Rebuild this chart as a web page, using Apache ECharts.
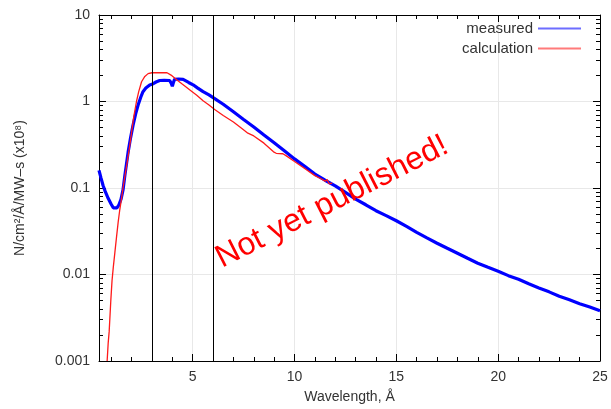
<!DOCTYPE html>
<html><head><meta charset="utf-8">
<script src="https://cdn.jsdelivr.net/npm/echarts@6/dist/echarts.min.js"></script>
<style>html,body{margin:0;padding:0;background:#fff}#c{width:611px;height:409px}</style>
</head><body><div id="c"></div>
<script>
// ---- data ----
const measuredX = [0.4,0.5,0.6,0.7,0.85,1.0,1.1,1.18,1.28,1.38,1.48,1.58,1.67,1.75,1.83,1.95,2.07,2.2,2.32,2.45,2.56,2.7,2.89,3.0,3.2,3.38,3.6,3.87,3.95,4.0,4.05,4.11,4.3,4.53,4.8,5.02,5.25,5.51,5.8,6.08,6.5,7.0,7.5,8.0,8.5,9.0,9.5,10,10.5,11,11.5,12,12.5,13,13.5,14,14.5,15,15.5,16,16.5,17,17.5,18,18.5,19,19.5,20,20.5,21,21.5,22,22.5,23,23.5,24,24.5,25];
const measuredY = [0.16,0.13,0.107,0.092,0.076,0.065,0.059,0.057,0.059,0.064,0.074,0.095,0.14,0.19,0.26,0.38,0.53,0.72,0.91,1.12,1.3,1.43,1.55,1.58,1.68,1.75,1.76,1.75,1.62,1.5,1.65,1.8,1.82,1.8,1.66,1.56,1.43,1.3,1.19,1.08,0.93,0.76,0.62,0.507,0.41,0.334,0.27,0.217,0.178,0.145,0.123,0.106,0.089,0.0745,0.064,0.0546,0.048,0.0418,0.036,0.0307,0.0265,0.023,0.0201,0.0176,0.0154,0.0135,0.0121,0.0109,0.0097,0.0088,0.0078,0.0070,0.0063,0.0056,0.0051,0.0046,0.0042,0.0038];
const calcX = [0.8,0.85,0.9,0.98,1.04,1.1,1.18,1.26,1.34,1.42,1.5,1.58,1.7,1.8,1.91,2.0,2.1,2.24,2.35,2.49,2.65,2.81,3.0,3.3,3.74,3.98,4.23,4.5,4.88,5.2,5.51,5.8,6.08,6.5,7.0,7.4,7.71,7.8,8.0,8.5,8.97,9.1,9.43,9.6,10.0,10.5,11.0,11.3,11.5,11.6,11.7,11.85];
const calcY = [0.001,0.0016,0.0022,0.005,0.0085,0.012,0.018,0.027,0.04,0.056,0.074,0.1,0.15,0.21,0.31,0.44,0.65,1.0,1.3,1.69,1.95,2.1,2.15,2.16,2.15,1.99,1.77,1.58,1.35,1.18,1.02,0.91,0.81,0.69,0.58,0.49,0.43,0.425,0.40,0.33,0.262,0.252,0.249,0.235,0.202,0.168,0.139,0.128,0.12,0.125,0.112,0.114];
const xTickLabels = [5,10,15,20,25];
const xMajorTicks = [5,10,15,20];
const xMinorTicks = [1,2,3,4,6,7,8,9,11,12,13,14,16,17,18,19,21,22,23,24];
const yMinorTicks = [0.002,0.003,0.004,0.005,0.006,0.007,0.008,0.009,0.02,0.03,0.04,0.05,0.06,0.07,0.08,0.09,0.2,0.3,0.4,0.5,0.6,0.7,0.8,0.9,2,3,4,5,6,7,8,9];
const refLinesX = [3,6];
const X_MIN = 0.4, X_MAX = 25, Y_MIN = 0.001, Y_MAX = 10;

const FONT = '"Liberation Sans", Arial, Helvetica, sans-serif';
const measured = measuredX.map((x,i)=>[x, measuredY[i]]);
const calc = calcX.map((x,i)=>[x, calcY[i]]);
const yMinorLog = yMinorTicks.map(v=>Math.log10(v));

const axisLine = {show:true, onZero:false, lineStyle:{color:'#000', width:1}};
const noLine = {show:false, onZero:false};
const major = {show:true, inside:true, length:7, lineStyle:{color:'#000', width:1}};
const minor = {show:true, inside:true, length:4, lineStyle:{color:'#000', width:1}};
const labelStyle = {fontSize:14, color:'#333', margin:9, fontFamily:FONT};

const chart = echarts.init(document.getElementById('c'));
chart.setOption({
  animation:false,
  textStyle:{fontFamily:FONT},
  grid:{left:99, right:11, top:15, bottom:48, containLabel:false},
  legend:{
    orient:'vertical', right:30, top:21, align:'right', icon:'rect',
    itemWidth:43, itemHeight:2, itemGap:5, padding:0,
    textStyle:{fontSize:15, color:'#333', fontFamily:FONT},
    data:[
      {name:'measured', itemStyle:{color:'#6d6dff'}},
      {name:'calculation', itemStyle:{color:'#ff7a7a'}}
    ]
  },
  xAxis:[{
    type:'value', min:X_MIN, max:X_MAX, position:'bottom',
    name:'Wavelength, Å', nameLocation:'middle', nameGap:29,
    nameTextStyle:{fontSize:14, color:'#333', fontFamily:FONT},
    axisLine:axisLine,
    axisTick:Object.assign({customValues:xMajorTicks}, major),
    axisLabel:Object.assign({customValues:xTickLabels}, labelStyle),
    splitLine:{show:true, lineStyle:{color:'#e8e8e8', width:1}}
  },{
    type:'value', min:X_MIN, max:X_MAX, position:'top',
    axisLine:axisLine,
    axisTick:Object.assign({customValues:xMajorTicks}, major),
    axisLabel:{show:false}, splitLine:{show:false}
  },{
    type:'value', min:X_MIN, max:X_MAX, position:'bottom',
    axisLine:noLine,
    axisTick:Object.assign({customValues:xMinorTicks}, minor),
    axisLabel:{show:false}, splitLine:{show:false}
  },{
    type:'value', min:X_MIN, max:X_MAX, position:'top',
    axisLine:noLine,
    axisTick:Object.assign({customValues:xMinorTicks}, minor),
    axisLabel:{show:false}, splitLine:{show:false}
  }],
  yAxis:[{
    type:'log', logBase:10, min:Y_MIN, max:Y_MAX, position:'left',
    name:'N/cm²/Å/MW–s (x10⁸)', nameLocation:'middle', nameGap:72,
    nameTextStyle:{fontSize:14, color:'#333', fontFamily:FONT},
    axisLine:axisLine, axisTick:major,
    axisLabel:Object.assign({formatter:v=> v>=1 ? String(Math.round(v)) : String(+(+v).toPrecision(1))}, labelStyle),
    splitLine:{show:true, lineStyle:{color:'#e8e8e8', width:1}}
  },{
    type:'log', logBase:10, min:Y_MIN, max:Y_MAX, position:'right',
    axisLine:axisLine, axisTick:major, axisLabel:{show:false}, splitLine:{show:false}
  },{
    type:'value', min:Math.log10(Y_MIN), max:Math.log10(Y_MAX), position:'left',
    axisLine:noLine, axisTick:Object.assign({customValues:yMinorLog}, minor),
    axisLabel:{show:false}, splitLine:{show:false}
  },{
    type:'value', min:Math.log10(Y_MIN), max:Math.log10(Y_MAX), position:'right',
    axisLine:noLine, axisTick:Object.assign({customValues:yMinorLog}, minor),
    axisLabel:{show:false}, splitLine:{show:false}
  }],
  series:[{
    name:'measured', type:'line', data:measured, symbol:'none',
    xAxisIndex:0, yAxisIndex:0,
    lineStyle:{color:'#0000ff', width:3.2}, itemStyle:{color:'#0000ff'}, z:3,
    markLine:{silent:true, symbol:'none', label:{show:false},
      lineStyle:{color:'#000', width:1, type:'solid'},
      data:refLinesX.map(v=>({xAxis:v}))}
  },{
    name:'calculation', type:'line', data:calc, symbol:'none',
    xAxisIndex:0, yAxisIndex:0,
    lineStyle:{color:'#ff1a1a', width:1.3}, itemStyle:{color:'#ff1a1a'}, z:4
  }],
  graphic:[{
    type:'text', x:332, y:202, rotation:27*Math.PI/180,
    style:{text:'Not yet published!', fill:'#ff0000', font:'32px ' + FONT, align:'center', verticalAlign:'middle'},
    z:100
  }]
});
</script></body></html>
